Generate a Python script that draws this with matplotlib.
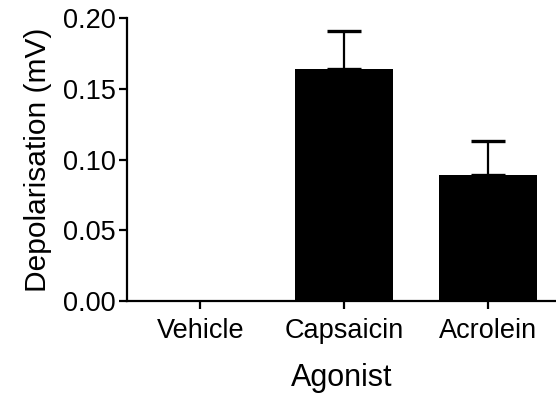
import matplotlib
matplotlib.use("Agg")
import matplotlib.pyplot as plt

categories = ["Vehicle", "Capsaicin", "Acrolein"]
means = [0.0, 0.164, 0.089]
sems = [0.0, 0.027, 0.024]
yticks = [0.00, 0.05, 0.10, 0.15, 0.20]

plt.rcParams['font.family'] = ['Liberation Sans', 'DejaVu Sans']

fig = plt.figure(figsize=(5.56, 3.94), dpi=100)
ax = fig.add_axes([0.2284, 0.236, 0.7716, 0.718])

x = list(range(len(categories)))
ax.bar(x, means, width=0.68, color='black', linewidth=0, zorder=2)
ex = [xi for xi, s in zip(x, sems) if s > 0]
em = [m for m, s in zip(means, sems) if s > 0]
es = [s for s in sems if s > 0]
ax.errorbar(ex, em, yerr=[[0] * len(es), es], fmt='none', ecolor='black',
            elinewidth=1.6, capsize=12, capthick=2.4, zorder=1)

ax.set_xlim(-0.51, 2.47)
ax.set_ylim(0, 0.20)
ax.set_yticks(yticks)
ax.set_yticklabels([f"{v:.2f}" for v in yticks])
ax.set_xticks(x)
ax.set_xticklabels(categories)

for s in ['top', 'right']:
    ax.spines[s].set_visible(False)
for s in ['left', 'bottom']:
    ax.spines[s].set_linewidth(1.6)
ax.tick_params(axis='both', direction='out', width=1.6, length=6, labelsize=19.5, pad=2)
ax.tick_params(axis='x', pad=6)

ax.set_xlabel("Agonist", fontsize=22, labelpad=14)
ax.set_ylabel("Depolarisation (mV)", fontsize=21.5, labelpad=8)

fig.savefig("out.png", dpi=100)
